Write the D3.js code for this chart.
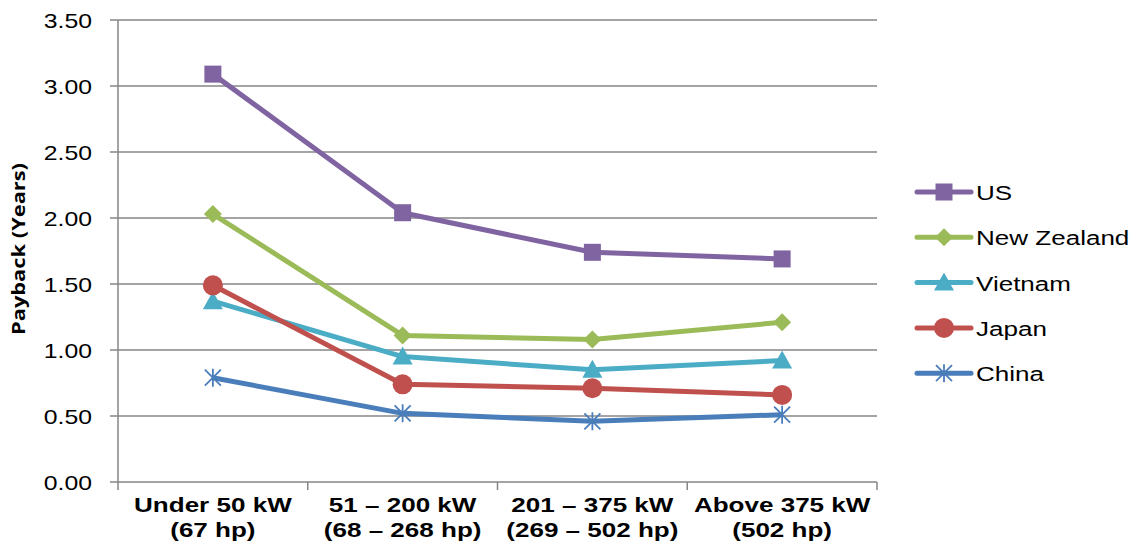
<!DOCTYPE html>
<html><head><meta charset="utf-8">
<script src="https://cdn.jsdelivr.net/npm/d3@7/dist/d3.min.js"></script>
<style>body{margin:0;background:#fff}svg{display:block}text{font-family:"Liberation Sans",Arial,sans-serif;fill:#000}</style>
</head><body><svg id="c" width="1137" height="560"></svg>
<script>
const categories = [["Under 50 kW","(67 hp)"],["51 – 200 kW","(68 – 268 hp)"],["201 – 375 kW","(269 – 502 hp)"],["Above 375 kW","(502 hp)"]];
const seriesNames = ["US","New Zealand","Vietnam","Japan","China"];
const US = [3.09, 2.04, 1.74, 1.69];
const NewZealand = [2.03, 1.11, 1.08, 1.21];
const Vietnam = [1.37, 0.95, 0.85, 0.92];
const Japan = [1.49, 0.74, 0.71, 0.66];
const China = [0.79, 0.52, 0.46, 0.51];
const yTicks = [0,0.5,1,1.5,2,2.5,3,3.5];
const colors = ["#8064a2","#9bbb59","#4bacc6","#c0504d","#4a7ebb"];
const markers = ["square","diamond","triangle","circle","star"];
const values = [US, NewZealand, Vietnam, Japan, China];

const svg = d3.select("#c");
const L=118, R=877, T=20, B=482, SX=1.24;
const x = d3.scaleBand().domain(d3.range(categories.length)).range([L,R]);
const y = d3.scaleLinear().domain([0,3.5]).range([B,T]);
const grid = "#868686";

// gridlines
svg.append("g").selectAll("line").data(yTicks.slice(1)).join("line")
  .attr("x1",L).attr("x2",R).attr("y1",d=>y(d)).attr("y2",d=>y(d))
  .attr("stroke",grid).attr("stroke-width",1.5);
// y axis
svg.append("line").attr("x1",L).attr("x2",L).attr("y1",T).attr("y2",B).attr("stroke",grid).attr("stroke-width",1.5);
svg.append("g").selectAll("line").data(yTicks).join("line")
  .attr("x1",L-8).attr("x2",L).attr("y1",d=>y(d)).attr("y2",d=>y(d)).attr("stroke",grid).attr("stroke-width",1.5);
svg.append("g").selectAll("text").data(yTicks).join("text")
  .attr("transform",d=>`translate(92,${y(d)+7.5}) scale(${SX},1)`)
  .attr("text-anchor","end").attr("font-size",20).text(d=>d.toFixed(2));
// x axis
svg.append("line").attr("x1",L).attr("x2",R).attr("y1",B).attr("y2",B).attr("stroke",grid).attr("stroke-width",1.5);
const tickX = d3.range(categories.length+1).map(i=> i<categories.length ? x(i) : R);
svg.append("g").selectAll("line").data(tickX).join("line")
  .attr("x1",d=>d).attr("x2",d=>d).attr("y1",B).attr("y2",B+8).attr("stroke",grid).attr("stroke-width",1.5);
const xl = svg.append("g").selectAll("g").data(categories).join("g")
  .attr("transform",(d,i)=>`translate(${x(i)+x.bandwidth()/2},0) scale(${SX},1)`);
xl.append("text").attr("y",512).attr("text-anchor","middle").attr("font-size",21).attr("font-weight","bold").text(d=>d[0]);
xl.append("text").attr("y",537).attr("text-anchor","middle").attr("font-size",21).attr("font-weight","bold").text(d=>d[1]);
// y title
svg.append("text").attr("transform","translate(25,249) rotate(-90)").attr("text-anchor","middle")
  .attr("font-size",17).attr("font-weight","bold").style("font-family","'Open Sans',sans-serif")
  .attr("textLength",172).attr("lengthAdjust","spacingAndGlyphs").text("Payback (Years)");

function drawMarker(g, type, color){
  if(type==="square") g.append("rect").attr("x",-8.5).attr("y",-8.5).attr("width",17).attr("height",17).attr("fill",color);
  else if(type==="diamond") g.append("path").attr("d","M0,-9L9,0L0,9L-9,0Z").attr("fill",color);
  else if(type==="triangle") g.append("path").attr("d","M0,-10L10,8L-10,8Z").attr("fill",color);
  else if(type==="circle") g.append("circle").attr("r",10).attr("fill",color);
  else if(type==="star") g.append("path").attr("d","M0,-9V9M-8,-8L8,8M-8,8L8,-8").attr("stroke",color).attr("stroke-width",1.8).attr("fill","none");
}
const line = d3.line().x((d,i)=>x(i)+x.bandwidth()/2).y(d=>y(d));
values.forEach((vals,s)=>{
  const g = svg.append("g");
  g.append("path").datum(vals).attr("d",line).attr("fill","none").attr("stroke",colors[s]).attr("stroke-width",5).attr("stroke-linejoin","round");
  vals.forEach((v,i)=>{
    const m = g.append("g").attr("transform",`translate(${x(i)+x.bandwidth()/2},${y(v)})`);
    drawMarker(m, markers[s], colors[s]);
  });
});
// legend
const leg = svg.append("g").selectAll("g").data(seriesNames).join("g")
  .attr("transform",(d,i)=>`translate(0,${192+i*45.3})`);
leg.append("line").attr("x1",917).attr("x2",971).attr("stroke",(d,i)=>colors[i]).attr("stroke-width",5).attr("stroke-linecap","round");
leg.each(function(d,i){ const m=d3.select(this).append("g").attr("transform","translate(944,0)"); drawMarker(m, markers[i], colors[i]); });
leg.append("text").attr("transform",`translate(976,8) scale(${SX},1)`).attr("font-size",21).text(d=>d);
</script></body></html>
